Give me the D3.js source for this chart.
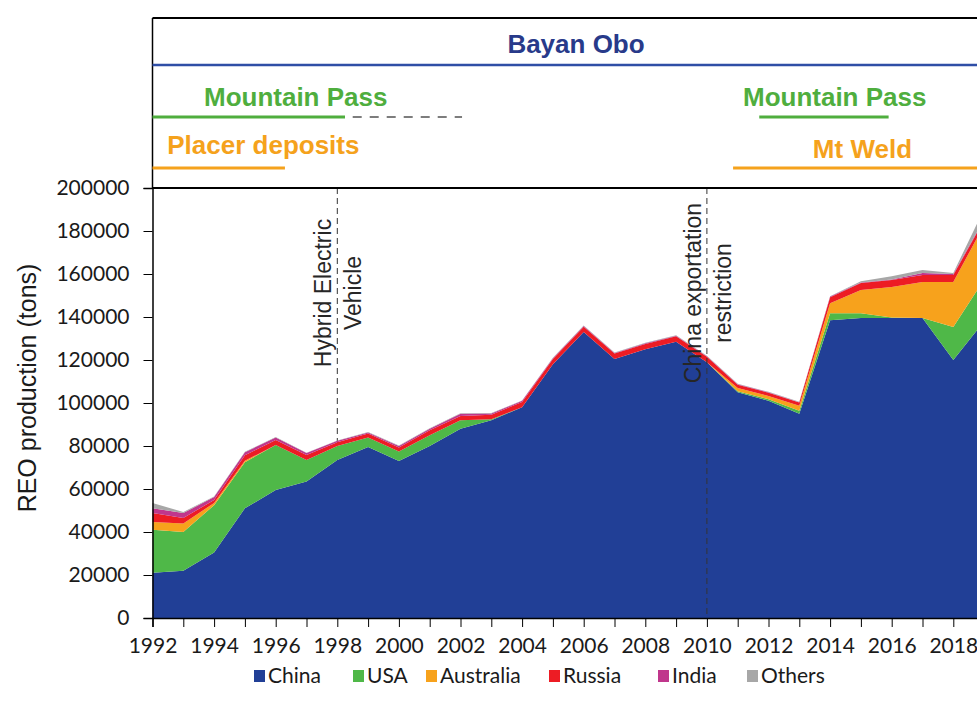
<!DOCTYPE html>
<html>
<head>
<meta charset="utf-8">
<script src="https://cdn.jsdelivr.net/npm/d3@7"></script>
<style>
  body { margin:0; background:#fff; }
  svg { display:block; }
  .axis text { font-family: Lato, "Liberation Sans", sans-serif; font-size:21px; fill:#1a1a1a; }
  .axis path, .axis line { stroke:#000; }
</style>
</head>
<body>
<div id="canvas"></div>
<script>
// data (tons)
var years = [1992,1993,1994,1995,1996,1997,1998,1999,2000,2001,2002,2003,2004,2005,
             2006,2007,2008,2009,2010,2011,2012,2013,2014,2015,2016,2017,2018,2019];
var china = [21000,22000,30500,51000,59500,63500,73500,79500,73000,80000,88000,92000,98000,118000,
             133000,120500,125000,128500,119000,105000,101000,95000,138500,139500,139500,139500,120000,138000];
var usa = [20000,18000,22000,21500,21000,10000,6500,4500,4500,5000,4000,500,0,0,
           0,0,0,0,0,500,800,1400,3300,2300,300,0,15300,19500];
var australia = [3600,4000,1000,600,0,0,0,0,0,0,0,0,0,0,
                 0,0,0,0,0,1500,1500,2300,4600,10800,14200,16800,21000,25300];
var russia = [4200,2500,1400,2600,2300,2300,1800,1800,1800,2300,2000,2000,2500,2500,
              2500,2500,2500,2500,2500,1500,1500,1500,2800,3200,3200,3200,3200,2300];
var india = [2200,2300,1400,1400,1200,900,600,500,700,700,1000,600,500,300,
             300,300,300,300,300,200,200,200,300,300,300,1000,500,500];
var others = [2500,500,200,200,200,200,200,200,200,200,200,200,200,200,
              200,200,200,200,200,200,200,200,200,500,1500,1400,500,4600];

var seriesNames = ['China','USA','Australia','Russia','India','Others'];
var seriesColors = ['#213f96','#4fb848','#f7a21c','#ed1c24','#c0368c','#a7a7a7'];

var yTicks = [0,20000,40000,60000,80000,100000,120000,140000,160000,180000,200000];
var xTickLabels = [1992,1994,1996,1998,2000,2002,2004,2006,2008,2010,2012,2014,2016,2018];

// deposits in operation (header)
var depositNames = ['Bayan Obo','Mountain Pass','Placer deposits','Mountain Pass','Mt Weld'];
var depositStart = [1992,1992,1992,2011.7,2010.85];
var depositEnd = [2019,1998.25,1996.3,2015.9,2019];
var depositRow = [0,1,2,1,2];
var depositLabelYear = [2005.75,1996.65,1995.6,2014.15,2015.05];
var dashedStart = [1998.5], dashedEnd = [2002.05];

// events
var eventYears = [1998,2010];
var eventLines = [['Hybrid Electric','Vehicle'],['China exportation','restriction']];

var W = 977, H = 711;
var m = {t:188, l:152.5, b:93};
var plotBottom = H - m.b;

var svg = d3.select('#canvas').append('svg')
    .attr('width',W).attr('height',H);

var x = d3.scaleLinear().domain([1992,2019]).range([m.l, m.l + 27*30.8]);
var y = d3.scaleLinear().domain([0,200000]).range([plotBottom, m.t]);

var table = years.map(function(yr,i){
    return {year:yr, China:china[i], USA:usa[i], Australia:australia[i],
            Russia:russia[i], India:india[i], Others:others[i]};
});
var stacked = d3.stack().keys(seriesNames)(table);

var area = d3.area()
    .x(function(d){return x(d.data.year)})
    .y0(function(d){return y(d[0])})
    .y1(function(d){return y(d[1])});

// event line behind the areas (1998)
svg.append('line')
    .attr('x1',x(eventYears[0])).attr('x2',x(eventYears[0]))
    .attr('y1',m.t).attr('y2',plotBottom)
    .attr('stroke','#333').attr('stroke-width',1).attr('stroke-dasharray','6,4');

svg.append('g').selectAll('path')
    .data(stacked)
    .enter().append('path')
    .attr('d',area)
    .attr('fill',function(d,i){return seriesColors[i]});

// event line over the areas (2010)
svg.append('line')
    .attr('x1',x(eventYears[1])).attr('x2',x(eventYears[1]))
    .attr('y1',m.t).attr('y2',plotBottom)
    .attr('stroke','#333').attr('stroke-width',1).attr('stroke-dasharray','6,4');

// event labels
eventYears.forEach(function(yr,i){
    var lines = eventLines[i];
    [-14,16].forEach(function(off,j){
        svg.append('text')
            .attr('transform','translate('+(x(yr)+off)+',293) rotate(-90)')
            .attr('text-anchor','middle')
            .attr('dy','0.35em')
            .style('font-family','"Liberation Sans", Arial, sans-serif')
            .style('font-size','23px')
            .style('fill','#262626')
            .text(lines[j]);
    });
});

// axes
var axisY = d3.axisLeft(y).tickValues(yTicks).tickSize(9).tickPadding(14)
    .tickFormat(d3.format('d'));
svg.append('g').attr('class','axis axis-y')
    .attr('transform','translate('+m.l+',0)')
    .call(axisY)
    .call(function(g){g.select('.domain').attr('stroke-width',1.5)});

var axisX = d3.axisBottom(x).tickValues(years).tickSize(9).tickPadding(11)
    .tickFormat(function(d){return xTickLabels.indexOf(d) >= 0 ? d : ''});
svg.append('g').attr('class','axis axis-x')
    .attr('transform','translate(0,'+plotBottom+')')
    .call(axisX)
    .call(function(g){g.select('.domain').attr('stroke-width',1.5)});

// frame: plot top and header box
svg.append('line').attr('x1',m.l).attr('x2',W).attr('y1',m.t).attr('y2',m.t)
    .attr('stroke','#000').attr('stroke-width',2);
svg.append('line').attr('x1',m.l).attr('x2',W).attr('y1',18).attr('y2',18)
    .attr('stroke','#000').attr('stroke-width',2);
svg.append('line').attr('x1',m.l).attr('x2',m.l).attr('y1',18).attr('y2',m.t)
    .attr('stroke','#000').attr('stroke-width',1.5);

// header deposits
var rowLineY = [65,117,168];
var rowTextY = [53,106,154];
var rowColor = ['#2f4ea6','#4fae3e','#f5a21c'];
var rowTextColor = ['#283a8a','#4fae3e','#f5a21c'];
var rowLineW = [2.5,3,3];
depositNames.forEach(function(name,i){
    var r = depositRow[i];
    svg.append('line')
        .attr('x1',x(depositStart[i])).attr('x2',x(depositEnd[i]))
        .attr('y1',rowLineY[r]).attr('y2',rowLineY[r])
        .attr('stroke',rowColor[r]).attr('stroke-width',rowLineW[r]);
    svg.append('text')
        .attr('x',x(depositLabelYear[i]))
        .attr('y',rowTextY[r] + (i==4 ? 4 : 0))
        .attr('text-anchor','middle')
        .style('font-family','"Liberation Sans", Arial, sans-serif')
        .style('font-weight','bold')
        .style('font-size','26px')
        .style('fill',rowTextColor[r])
        .text(name);
});
svg.append('line')
    .attr('x1',x(dashedStart[0])).attr('x2',x(dashedEnd[0]))
    .attr('y1',rowLineY[1]).attr('y2',rowLineY[1])
    .attr('stroke','#7d7d7d').attr('stroke-width',2).attr('stroke-dasharray','9,8');

// y axis title
svg.append('text')
    .attr('transform','translate(27,388) rotate(-90)')
    .attr('text-anchor','middle')
    .attr('dy','0.35em')
    .style('font-family','"Liberation Sans", Arial, sans-serif')
    .style('font-size','25px')
    .style('fill','#1a1a1a')
    .text('REO production (tons)');

// legend
var legendX = [254,353,426,549,658,747];
var legend = svg.append('g').attr('transform','translate(0,676)');
seriesNames.forEach(function(name,i){
    legend.append('rect')
        .attr('x',legendX[i]).attr('y',-6)
        .attr('width',11).attr('height',12)
        .attr('fill',seriesColors[i]);
    legend.append('text')
        .attr('x',legendX[i]+14).attr('y',0)
        .attr('dy','0.35em')
        .style('font-family','Lato, "Liberation Sans", sans-serif')
        .style('font-size','21px')
        .style('fill','#1a1a1a')
        .text(name);
});
</script>
</body>
</html>
